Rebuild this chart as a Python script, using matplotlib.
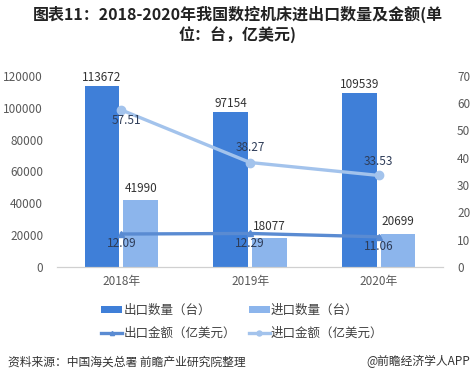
import matplotlib.pyplot as plt
import numpy as np

plt.rcParams['font.family'] = ['Noto Sans CJK SC', 'DejaVu Sans']

years = ["2018年", "2019年", "2020年"]
export_qty = [113672, 97154, 109539]
import_qty = [41990, 18077, 20699]
export_amt = [12.09, 12.29, 11.06]
import_amt = [57.51, 38.27, 33.53]

c_exp = "#3f7fd8"
c_imp = "#8cb5ec"
c_exp_line = "#5a8bd2"
c_imp_line = "#a3c3ec"
tick_c = "#595959"

fig = plt.figure(figsize=(4.75, 3.87), dpi=100)
ax = fig.add_axes([0.12, 0.31, 0.813, 0.494])
ax2 = ax.twinx()

x = np.arange(len(years))
w = 0.27
b1 = ax.bar(x - 0.15, export_qty, w, color=c_exp, label="出口数量（台）", zorder=2)
b2 = ax.bar(x + 0.15, import_qty, w, color=c_imp, label="进口数量（台）", zorder=2)

for xi, v in zip(x - 0.15, export_qty):
    ax.text(xi, v + 1200, str(v), ha="center", va="bottom", fontsize=8.5, color="#333333")
for xi, v in zip(x + 0.15, import_qty):
    ax.text(xi, v + 3500, str(v), ha="center", va="bottom", fontsize=8.5, color="#333333")

l1, = ax2.plot(x, export_amt, color=c_exp_line, lw=2.4, marker="^", ms=5, label="出口金额（亿美元）")
l2, = ax2.plot(x, import_amt, color=c_imp_line, lw=2.4, marker="o", ms=6, label="进口金额（亿美元）")

for xi, v in zip(x, export_amt):
    ax2.text(xi, v - 3.5, f"{v:.2f}", ha="center", va="center", fontsize=8.5, color="#2e3c58")
imp_off = [(0.04, -4.0), (0.0, 5.5), (0.0, 5.0)]
for xi, v, (dx, dy) in zip(x, import_amt, imp_off):
    ax2.text(xi + dx, v + dy, f"{v:.2f}", ha="center", va="center", fontsize=8.5, color="#2e3c58")

ax.set_xlim(-0.5, 2.5)
ax.set_ylim(0, 120000)
ax.set_yticks(range(0, 120001, 20000))
ax2.set_ylim(0, 70)
ax2.set_yticks(range(0, 71, 10))
ax.set_xticks(x)
ax.set_xticklabels(years)

for a in (ax, ax2):
    for s in ("top", "left", "right"):
        a.spines[s].set_visible(False)
    a.spines["bottom"].set_color("#d0d0d0")
    a.tick_params(length=0, labelsize=8.5, colors=tick_c)
ax.tick_params(axis="y", pad=10)
ax2.tick_params(axis="y", pad=10)
ax.tick_params(axis="x", pad=6)

fig.text(0.5, 0.962, "图表11：2018-2020年我国数控机床进出口数量及金额(单", ha="center", va="center",
         fontsize=11.5, fontweight="bold", color="#222222")
fig.text(0.5, 0.912, "位：台，亿美元)", ha="center", va="center",
         fontsize=11.5, fontweight="bold", color="#222222")

fig.legend([b1, l1, b2, l2], [b1.get_label(), l1.get_label(), b2.get_label(), l2.get_label()],
           ncol=2, loc="center", bbox_to_anchor=(0.51, 0.168), frameon=False, fontsize=9,
           handlelength=1.7, handleheight=0.5, handletextpad=0.1, columnspacing=1.0,
           labelspacing=0.75, markerscale=0.6, labelcolor="#404040")

fig.text(0.017, 0.065, "资料来源：中国海关总署 前瞻产业研究院整理", ha="left", va="center",
         fontsize=8.5, color="#333333")
fig.text(0.99, 0.065, "@前瞻经济学人APP", ha="right", va="center", fontsize=8.5, color="#333333")

fig.savefig("out.png", dpi=100)
